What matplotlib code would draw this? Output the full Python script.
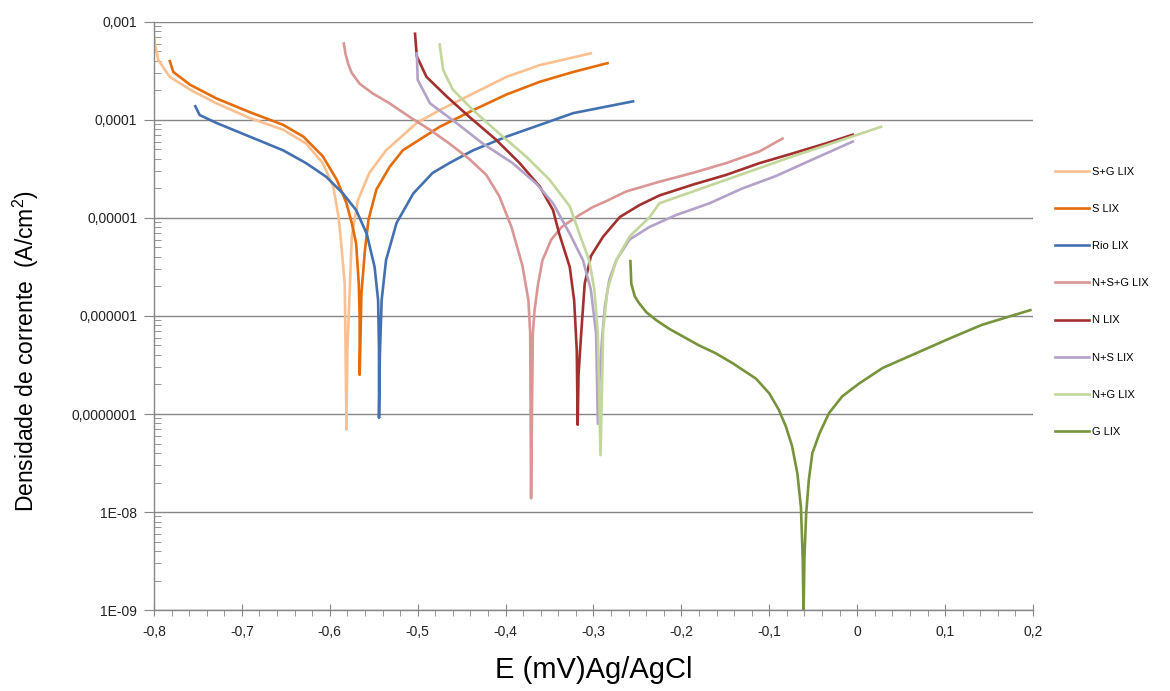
import numpy as np
import matplotlib
matplotlib.use("Agg")
import matplotlib.pyplot as plt
from matplotlib.ticker import FixedLocator, MultipleLocator, LogLocator, NullFormatter

plt.rcParams['font.family'] = ['Liberation Sans', 'DejaVu Sans']
plt.rcParams['mathtext.default'] = 'regular'

# --- curves: E (V) and log10 of current density (A/cm2) ---
sg_E = [-0.801, -0.799, -0.795, -0.782, -0.759, -0.729, -0.691, -0.653, -0.627, -0.608, -0.596, -0.590,
        -0.587, -0.583, -0.582, -0.581, -0.580, -0.577, -0.575, -0.568, -0.555, -0.536, -0.501, -0.475,
        -0.437, -0.399, -0.361, -0.303]
sg_logi = [-3.05, -3.22, -3.39, -3.56, -3.69, -3.83, -3.98, -4.10, -4.24, -4.44, -4.68, -4.99,
           -5.26, -5.67, -6.35, -7.16, -6.35, -5.67, -5.19, -4.82, -4.54, -4.31, -4.03, -3.90,
           -3.73, -3.56, -3.44, -3.32]

s_E = [-0.782, -0.778, -0.759, -0.729, -0.691, -0.653, -0.630, -0.608, -0.592, -0.581, -0.575, -0.570,
       -0.567, -0.566, -0.566, -0.565, -0.564, -0.560, -0.556, -0.547, -0.532, -0.517, -0.475, -0.437,
       -0.399, -0.361, -0.323, -0.284]
s_logi = [-3.40, -3.51, -3.64, -3.78, -3.92, -4.05, -4.17, -4.37, -4.61, -4.85, -5.05, -5.26,
          -5.67, -6.01, -6.60, -6.20, -5.77, -5.33, -5.02, -4.71, -4.48, -4.31, -4.07, -3.90,
          -3.74, -3.61, -3.51, -3.42]

rio_E = [-0.753, -0.748, -0.729, -0.691, -0.653, -0.627, -0.604, -0.585, -0.570, -0.558, -0.549, -0.545,
         -0.544, -0.544, -0.543, -0.541, -0.536, -0.524, -0.505, -0.483, -0.464, -0.437, -0.399, -0.361,
         -0.323, -0.255]
rio_logi = [-3.86, -3.95, -4.03, -4.17, -4.31, -4.44, -4.58, -4.75, -4.92, -5.16, -5.50, -5.84,
            -6.35, -7.04, -6.40, -5.84, -5.43, -5.05, -4.75, -4.54, -4.44, -4.31, -4.17, -4.05,
            -3.93, -3.81]

nsg_E = [-0.584, -0.582, -0.579, -0.575, -0.566, -0.551, -0.532, -0.509, -0.486, -0.464, -0.441, -0.422,
         -0.407, -0.393, -0.381, -0.374, -0.372, -0.371, -0.369, -0.367, -0.363, -0.358, -0.348, -0.336,
         -0.316, -0.301, -0.286, -0.263, -0.225, -0.187, -0.149, -0.111, -0.085]
nsg_logi = [-3.22, -3.33, -3.43, -3.52, -3.63, -3.73, -3.83, -3.97, -4.10, -4.24, -4.40, -4.56,
            -4.78, -5.10, -5.48, -5.84, -6.18, -7.86, -6.18, -5.94, -5.67, -5.43, -5.22, -5.09,
            -4.97, -4.89, -4.83, -4.73, -4.63, -4.54, -4.44, -4.32, -4.19]

n_E = [-0.503, -0.501, -0.490, -0.467, -0.441, -0.411, -0.384, -0.361, -0.346, -0.339, -0.327, -0.322,
       -0.319, -0.318, -0.317, -0.314, -0.310, -0.303, -0.289, -0.270, -0.248, -0.225, -0.187, -0.149,
       -0.111, -0.073, -0.036, -0.005]
n_logi = [-3.12, -3.35, -3.56, -3.76, -3.97, -4.20, -4.44, -4.68, -4.92, -5.16, -5.50, -5.84,
          -6.35, -7.11, -6.60, -6.18, -5.67, -5.39, -5.19, -4.99, -4.87, -4.77, -4.66, -4.56,
          -4.44, -4.34, -4.24, -4.15]

ns_E = [-0.501, -0.500, -0.486, -0.456, -0.426, -0.392, -0.365, -0.346, -0.327, -0.312, -0.303, -0.297,
        -0.295, -0.293, -0.290, -0.287, -0.282, -0.274, -0.259, -0.236, -0.206, -0.168, -0.131, -0.092,
        -0.055, -0.005]
ns_logi = [-3.32, -3.59, -3.83, -4.03, -4.24, -4.44, -4.65, -4.85, -5.16, -5.43, -5.73, -6.18,
           -7.10, -6.60, -6.20, -5.90, -5.63, -5.43, -5.22, -5.09, -4.97, -4.85, -4.70, -4.57,
           -4.42, -4.22]

ng_E = [-0.475, -0.471, -0.460, -0.437, -0.407, -0.377, -0.350, -0.327, -0.316, -0.305, -0.299, -0.295,
        -0.292, -0.290, -0.289, -0.284, -0.274, -0.259, -0.236, -0.225, -0.187, -0.149, -0.111, -0.073,
        -0.036, 0.027]
ng_logi = [-3.23, -3.49, -3.69, -3.90, -4.14, -4.37, -4.61, -4.88, -5.16, -5.43, -5.73, -6.18,
           -7.42, -6.60, -6.14, -5.73, -5.43, -5.19, -4.99, -4.85, -4.73, -4.61, -4.49, -4.37,
           -4.26, -4.07]

g_E = [-0.258, -0.257, -0.253, -0.248, -0.240, -0.229, -0.214, -0.198, -0.180, -0.161, -0.142,
       -0.115, -0.100, -0.089, -0.081, -0.074, -0.068, -0.064, -0.062, -0.061, -0.060, -0.058, -0.055,
       -0.051, -0.043, -0.032, -0.017, 0.002, 0.029, 0.067, 0.105, 0.142, 0.197]
g_logi = [-5.44, -5.67, -5.80, -5.87, -5.96, -6.04, -6.13, -6.21, -6.30, -6.38, -6.48,
          -6.64, -6.79, -6.96, -7.13, -7.33, -7.61, -7.95, -8.46, -9.05, -8.46, -8.01, -7.67,
          -7.40, -7.20, -6.99, -6.82, -6.69, -6.53, -6.38, -6.23, -6.09, -5.94]

labels = ['S+G LIX', 'S LIX', 'Rio LIX', 'N+S+G LIX', 'N LIX', 'N+S LIX', 'N+G LIX', 'G LIX']
colors = ['#FAC090', '#E46C0A', '#4371B0', '#D99694', '#A2302E', '#B3A2C7', '#C3D69B', '#77933C']
series = [(sg_E, sg_logi), (s_E, s_logi), (rio_E, rio_logi), (nsg_E, nsg_logi),
          (n_E, n_logi), (ns_E, ns_logi), (ng_E, ng_logi), (g_E, g_logi)]

ytick_vals = [1e-3, 1e-4, 1e-5, 1e-6, 1e-7, 1e-8, 1e-9]
ytick_labels = ['0,001', '0,0001', '0,00001', '0,000001', '0,0000001', '1E-08', '1E-09']
xtick_vals = [-0.8, -0.7, -0.6, -0.5, -0.4, -0.3, -0.2, -0.1, 0.0, 0.1, 0.2]
xtick_labels = ['-0,8', '-0,7', '-0,6', '-0,5', '-0,4', '-0,3', '-0,2', '-0,1', '0', '0,1', '0,2']

fig = plt.figure(figsize=(11.7, 6.91), dpi=100)
ax = fig.add_axes([0.1316, 0.1172, 0.7513, 0.8510])

for (E, li), lab, c in zip(series, labels, colors):
    ax.plot(E, 10 ** np.array(li), color=c, lw=1.9, label=lab)

ax.set_yscale('log')
ax.set_xlim(-0.8, 0.2)
ax.set_ylim(1e-9, 1e-3)

gray = '#868686'
ax.yaxis.set_major_locator(FixedLocator(ytick_vals))
ax.set_yticklabels(ytick_labels)
ax.yaxis.set_minor_locator(LogLocator(base=10, subs=np.arange(2, 10)))
ax.yaxis.set_minor_formatter(NullFormatter())
ax.set_xticks(xtick_vals)
ax.set_xticklabels(xtick_labels)
ax.xaxis.set_minor_locator(MultipleLocator(0.02))

ax.tick_params(axis='y', which='major', direction='out', length=7, color=gray,
               labelsize=10, labelcolor='#222222', pad=5)
ax.tick_params(axis='y', which='minor', direction='in', length=5, color=gray)
ax.tick_params(axis='x', which='major', direction='inout', length=9, color=gray,
               labelsize=10, labelcolor='#222222', pad=6)
ax.tick_params(axis='x', which='minor', direction='out', length=4, color=gray)

ax.grid(True, axis='y', which='major', color=gray, lw=1)
for side in ['top', 'right']:
    ax.spines[side].set_visible(False)
for side in ['left', 'bottom']:
    ax.spines[side].set_color(gray)
    ax.spines[side].set_linewidth(1)

ax.set_ylabel('Densidade de corrente  (A/cm$^2$)', fontsize=16.5)
ax.yaxis.set_label_coords(-0.128, 0.44)
ax.set_xlabel('E (mV)Ag/AgCl', fontsize=21)
ax.xaxis.set_label_coords(0.5, -0.078)

ax.legend(loc='center left', bbox_to_anchor=(1.0, 0.524), frameon=False, fontsize=8,
          labelspacing=2.45, handlelength=3.0, handletextpad=0.3, borderaxespad=1.6)

fig.savefig('out.png', dpi=100)
